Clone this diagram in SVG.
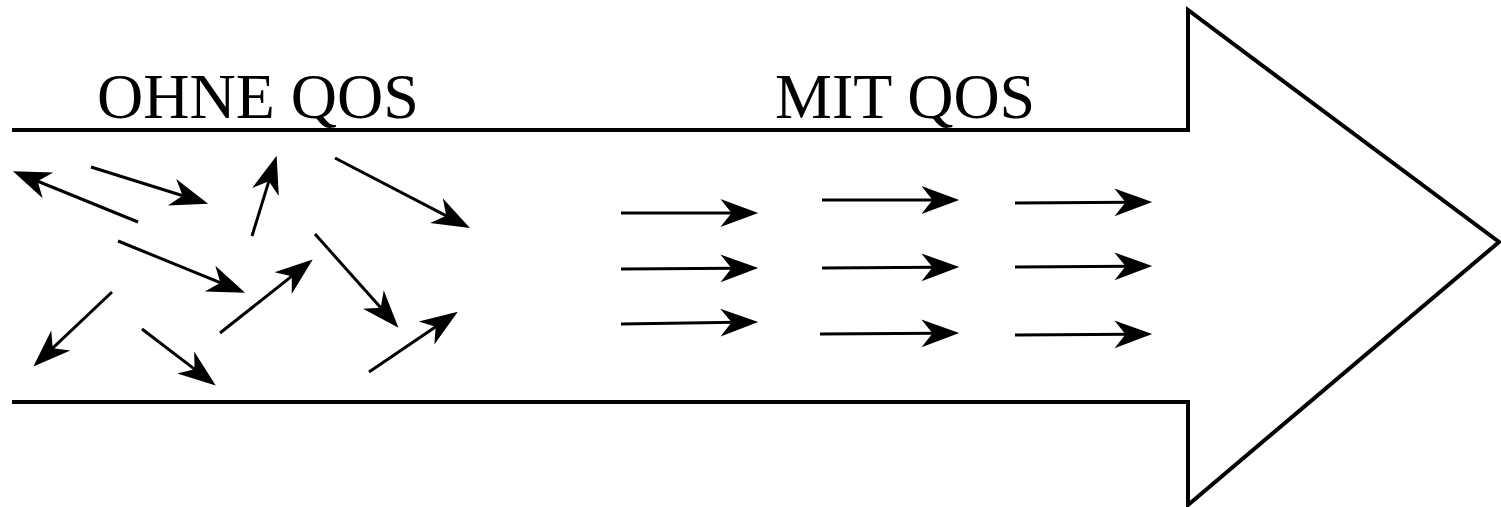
<svg xmlns="http://www.w3.org/2000/svg" width="1501" height="507" viewBox="0 0 1501 507">
<style>
.outline{fill:none;stroke:#000;stroke-width:4;stroke-linejoin:miter}
.arr{stroke:#000;stroke-width:3;fill:none;marker-end:url(#head)}
.lbl{font-family:"Liberation Serif","Times New Roman",serif;font-size:64px;fill:#000}
</style>
<defs>
<marker id="head" markerUnits="userSpaceOnUse" markerWidth="40" markerHeight="30" viewBox="-15 -13 36 26" refX="0" refY="0" orient="auto" overflow="visible">
<path d="M20,0 L-14,-12.5 L-4,0 L-14,12.5 Z" fill="#000"/>
</marker>
</defs>
<rect width="1501" height="507" fill="#fff"/>
<g id="big-arrow">
<path class="outline" d="M12,130 L1188,130 L1188,10 L1499,242 L1188,505 L1188,402 L12,402"/>
</g>
<g id="label-ohne">
<text class="lbl" x="97" y="118">OHNE QOS</text>
</g>
<g id="label-mit">
<text class="lbl" x="775" y="118">MIT QOS</text>
</g>
<g id="connectors">
<line class="arr" x1="138" y1="222" x2="33.5" y2="179.5"/>
<line class="arr" x1="91" y1="167" x2="186.9" y2="197"/>
<line class="arr" x1="118" y1="241" x2="224.5" y2="284.4"/>
<line class="arr" x1="112" y1="292" x2="49.5" y2="351.2"/>
<line class="arr" x1="142" y1="329" x2="198.1" y2="371.9"/>
<line class="arr" x1="252" y1="236" x2="270.1" y2="177.1"/>
<line class="arr" x1="335" y1="158" x2="450.2" y2="217.8"/>
<line class="arr" x1="220" y1="333" x2="295.3" y2="273.4"/>
<line class="arr" x1="315" y1="234" x2="383.7" y2="311.1"/>
<line class="arr" x1="369" y1="372" x2="439.4" y2="324.2"/>
<line class="arr" x1="621" y1="213" x2="736" y2="213"/>
<line class="arr" x1="621" y1="269" x2="736" y2="268.2"/>
<line class="arr" x1="621" y1="324" x2="736" y2="322.3"/>
<line class="arr" x1="822" y1="200" x2="937" y2="200"/>
<line class="arr" x1="822" y1="268" x2="937" y2="267.2"/>
<line class="arr" x1="820" y1="334" x2="937" y2="333.2"/>
<line class="arr" x1="1015" y1="203" x2="1130" y2="202.2"/>
<line class="arr" x1="1015" y1="267" x2="1130" y2="266.2"/>
<line class="arr" x1="1015" y1="335" x2="1130" y2="334.2"/>
</g>
</svg>
